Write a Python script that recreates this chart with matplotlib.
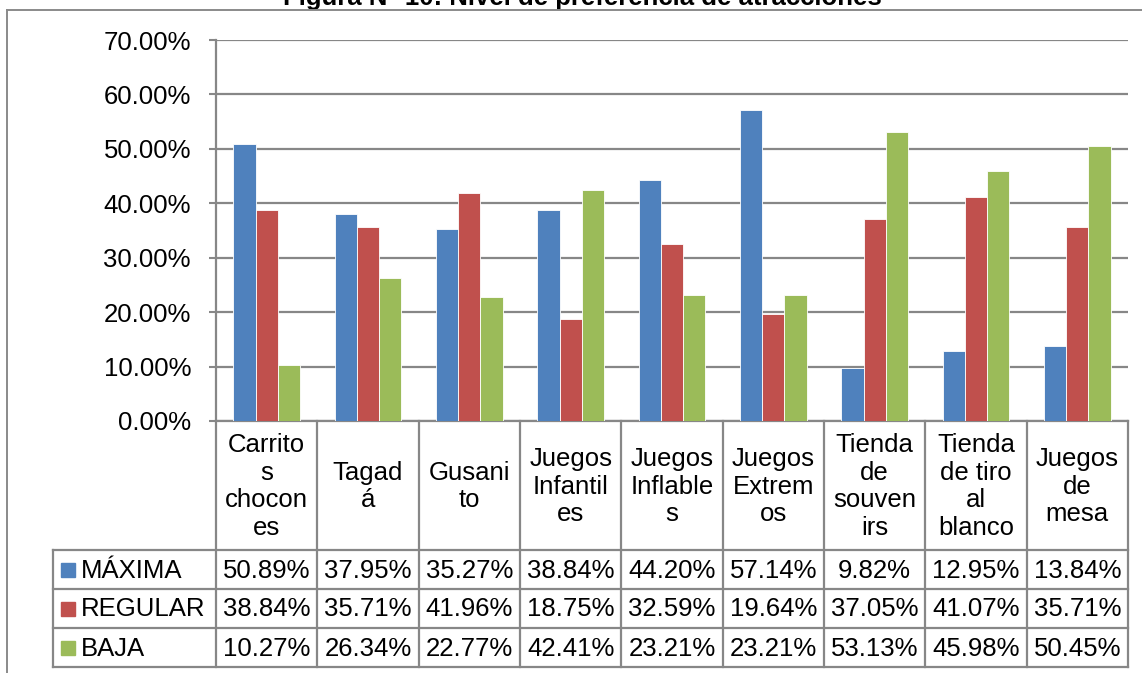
import matplotlib.pyplot as plt
from matplotlib.lines import Line2D
from matplotlib.patches import Rectangle
from matplotlib.ticker import PercentFormatter

plt.rcParams['font.family'] = ['Liberation Sans', 'DejaVu Sans']

TITLE = "Figura N° 10: Nivel de preferencia de atracciones"
categories = ["Carrito\ns\nchocon\nes", "Tagad\ná", "Gusani\nto", "Juegos\nInfantil\nes",
              "Juegos\nInflable\ns", "Juegos\nExtrem\nos", "Tienda\nde\nsouven\nirs",
              "Tienda\nde tiro\nal\nblanco", "Juegos\nde\nmesa"]
series_names = ["MÁXIMA", "REGULAR", "BAJA"]
maxima = [50.89, 37.95, 35.27, 38.84, 44.20, 57.14, 9.82, 12.95, 13.84]
regular = [38.84, 35.71, 41.96, 18.75, 32.59, 19.64, 37.05, 41.07, 35.71]
baja = [10.27, 26.34, 22.77, 42.41, 23.21, 23.21, 53.13, 45.98, 50.45]
colors = ["#4F81BD", "#C0504D", "#9BBB59"]

W, H = 1142, 673
GRID = "#878787"

fig = plt.figure(figsize=(W / 100, H / 100), dpi=100)

# plot area in pixel coordinates of the reference
L, R, T, B = 216, 1128, 40, 421
ax = fig.add_axes([L / W, 1 - B / H, (R - L) / W, (B - T) / H])

series = [maxima, regular, baja]
bw = 0.22
n = len(categories)
for i, vals in enumerate(series):
    xs = [k + (i - 1) * bw for k in range(n)]
    ax.bar(xs, vals, width=bw, color=colors[i], edgecolor="white", linewidth=0.6, zorder=3)

ax.set_xlim(-0.5, n - 0.5)
ax.set_ylim(0, 70)
ax.set_yticks(range(0, 71, 10))
ax.yaxis.set_major_formatter(PercentFormatter(decimals=2))
ax.tick_params(axis="y", labelsize=18.5, length=5, width=1.5, color=GRID, pad=13)
ax.set_xticks([])
ax.grid(axis="y", color=GRID, linewidth=1.6, zorder=0)
for s in ["top", "right"]:
    ax.spines[s].set_visible(False)
for s in ["left", "bottom"]:
    ax.spines[s].set_color(GRID)
    ax.spines[s].set_linewidth(1.6)

# overlay in pixel coordinates for the frame and data table
ov = fig.add_axes([0, 0, 1, 1], zorder=5)
ov.set_xlim(0, W)
ov.set_ylim(H, 0)
ov.axis("off")
ov.patch.set_alpha(0)

def hline(y, x0, x1, color=GRID, lw=1.6):
    ov.add_line(Line2D([x0, x1], [y, y], color=color, lw=lw))

def vline(x, y0, y1, color=GRID, lw=1.6):
    ov.add_line(Line2D([x, x], [y0, y1], color=color, lw=lw))

# outer chart frame (cropped at right and bottom)
hline(10, 7, W, color="#8a8a8a", lw=1.4)
vline(7, 10, H, color="#8a8a8a", lw=1.4)

# title, partly cut off at the top
fig.text(0.51, 1 - 5 / H, TITLE, ha="center", va="baseline", fontsize=18.5, fontweight="bold")

cw = (R - L) / n
row_y = [550, 589, 628, 667]
LEG_L = 53

# table grid
for k in range(n + 1):
    vline(L + k * cw, B, row_y[-1])
vline(LEG_L, row_y[0], row_y[-1])
for y in row_y:
    hline(y, LEG_L, R)

# category labels
for k, c in enumerate(categories):
    ov.text(L + (k + 0.5) * cw, (B + row_y[0]) / 2 + 1, c, ha="center", va="center",
            fontsize=18.5, linespacing=1.18)

# data rows
for i, (name, vals) in enumerate(zip(series_names, series)):
    yc = (row_y[i] + row_y[i + 1]) / 2
    ov.add_patch(Rectangle((61, yc - 7), 14, 14, color=colors[i]))
    ov.text(81, yc + 1, name, ha="left", va="center", fontsize=18.5)
    for k, v in enumerate(vals):
        ov.text(L + (k + 0.5) * cw, yc + 1, f"{v:.2f}%", ha="center", va="center", fontsize=18.5)

fig.savefig("out.png", dpi=100)
